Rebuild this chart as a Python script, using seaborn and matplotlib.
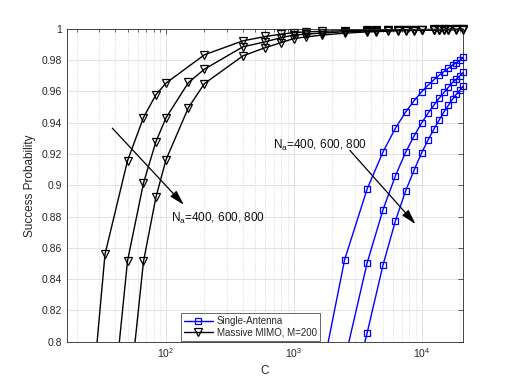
import numpy as np
import matplotlib
matplotlib.use("Agg")
import matplotlib.pyplot as plt
import seaborn as sns
from matplotlib.patches import Rectangle
from matplotlib.ticker import FixedLocator, LogLocator, NullFormatter

# single-antenna curves (C = 1250*k)
sa_c = [1250, 2500, 3750, 5000, 6250, 7500, 8750, 10000, 11250, 12500,
        13750, 15000, 16250, 17500, 18750, 20000, 21250]
sa_400 = [0.729, 0.8524, 0.8976, 0.9214, 0.9365, 0.9468, 0.954, 0.9597, 0.964,
          0.9674, 0.9704, 0.9727, 0.9749, 0.9768, 0.9783, 0.9798, 0.9818]
sa_600 = [0.70, 0.788, 0.8503, 0.8845, 0.9061, 0.921, 0.9316, 0.9397, 0.9461,
          0.9512, 0.9557, 0.9593, 0.9627, 0.9657, 0.9679, 0.9700, 0.9722]
sa_800 = [0.68, 0.75, 0.8055, 0.8492, 0.8773, 0.8963, 0.9097, 0.9206, 0.9289,
          0.9359, 0.9418, 0.947, 0.9512, 0.9551, 0.9583, 0.9608, 0.9636]

# massive MIMO curves
tail_c = [1250, 1667, 2500, 3750, 4400, 5500, 6500, 7500, 8750, 10000,
          12500, 13750, 15000, 16250, 18750, 21250]
mm_c_400 = [16.67, 33.33, 50, 66.67, 83.33, 100, 200, 400, 600, 800, 1000] + tail_c
mm_400 = [0.584, 0.856, 0.9157, 0.9433, 0.9578, 0.9653, 0.9834, 0.9923, 0.9951,
          0.9966, 0.9976,
          0.998, 0.9984, 0.9988, 0.9991, 0.9992, 0.9993, 0.9994, 0.9994, 0.9995,
          0.9995, 0.9996, 0.9996, 0.9996, 0.9997, 0.9997, 0.9997]
mm_c_600 = [33.33, 50, 66.67, 83.33, 100, 150, 200, 400, 600, 800, 1000] + tail_c
mm_600 = [0.709, 0.8517, 0.9014, 0.9278, 0.9431, 0.9657, 0.9742, 0.9885, 0.9917,
          0.9944, 0.996,
          0.9966, 0.9973, 0.9981, 0.9986, 0.9988, 0.999, 0.9991, 0.9992, 0.9993,
          0.9993, 0.9994, 0.9995, 0.9995, 0.9995, 0.9996, 0.9996]
mm_c_800 = [50, 66.67, 83.33, 100, 150, 200, 400, 600, 800, 1000] + tail_c
mm_800 = [0.754, 0.8513, 0.8922, 0.9163, 0.9497, 0.965, 0.9827, 0.988, 0.9912,
          0.9938,
          0.9948, 0.996, 0.9972, 0.998, 0.9982, 0.9985, 0.9987, 0.9988, 0.9989,
          0.999, 0.9992, 0.9992, 0.9993, 0.9993, 0.9994, 0.9994]

y_ticks = [0.8, 0.82, 0.84, 0.86, 0.88, 0.9, 0.92, 0.94, 0.96, 0.98, 1.0]
y_labels = ["0.8", "0.82", "0.84", "0.86", "0.88", "0.9", "0.92", "0.94",
            "0.96", "0.98", "1"]

sns.set_style("white")
plt.rcParams["font.family"] = ["Liberation Sans", "DejaVu Sans"]

fig = plt.figure(figsize=(5.12, 3.84), dpi=100)
ax = fig.add_axes([0.13, 0.11, 0.775, 0.815])

clip = Rectangle((0, 0), 1.02, 1.03, transform=ax.transAxes)

for c, p in [(sa_c, sa_400), (sa_c, sa_600), (sa_c, sa_800)]:
    sns.lineplot(x=c, y=p, ax=ax, color="b", marker="s", markersize=5,
                 markerfacecolor="none", markeredgecolor="b",
                 markeredgewidth=0.9, linewidth=1.0, sort=False)
for c, p in [(mm_c_400, mm_400), (mm_c_600, mm_600), (mm_c_800, mm_800)]:
    sns.lineplot(x=c, y=p, ax=ax, color="k", marker="v", markersize=5.3,
                 markerfacecolor="none", markeredgecolor="k",
                 markeredgewidth=0.9, linewidth=1.0, sort=False)

for ln in ax.lines:
    ln.set_clip_path(clip)

ax.set_xscale("log")
ax.set_xlim(50 / 3, 21250)
ax.set_ylim(0.8, 1.0)
ax.yaxis.set_major_locator(FixedLocator(y_ticks))
ax.set_yticklabels(y_labels)
ax.xaxis.set_major_locator(LogLocator(base=10, numticks=10))
ax.xaxis.set_minor_locator(LogLocator(base=10, subs=np.arange(2, 10), numticks=20))
ax.xaxis.set_minor_formatter(NullFormatter())

ax.grid(True, which="major", color="#dedede", linewidth=0.6, linestyle="-")
ax.grid(True, which="minor", axis="x", color="#d0d0d0", linewidth=0.6, linestyle=":")
ax.set_axisbelow(True)

for s in ax.spines.values():
    s.set_color("#262626")
    s.set_linewidth(0.6)
ax.tick_params(which="both", direction="in", top=True, right=True,
               colors="#262626", labelsize=7.5, width=0.5)
ax.tick_params(which="major", length=3.5)
ax.tick_params(which="minor", length=2)

ax.set_xlabel("C", fontsize=8.5, color="#262626", labelpad=3)
ax.set_ylabel("Success Probability", fontsize=8.5, color="#262626", labelpad=4)

ax.annotate("", xy=(138, 0.8875), xytext=(38, 0.9365),
            arrowprops=dict(arrowstyle="-|>,head_length=0.9,head_width=0.25",
                            color="k", lw=0.9, shrinkA=0, shrinkB=0))
ax.text(110, 0.879, r"N$_{\mathregular{a}}$=400, 600, 800", fontsize=8.5,
        va="center", ha="left", color="#111111")
ax.annotate("", xy=(8980, 0.8752), xytext=(2750, 0.9223),
            arrowprops=dict(arrowstyle="-|>,head_length=0.9,head_width=0.25",
                            color="k", lw=0.9, shrinkA=0, shrinkB=0))
ax.text(683, 0.9255, r"N$_{\mathregular{a}}$=400, 600, 800", fontsize=8.5,
        va="center", ha="left", color="#111111")

leg = ax.legend(handles=[ax.lines[0], ax.lines[3]],
                labels=["Single-Antenna", "Massive MIMO, M=200"],
                loc="lower left", bbox_to_anchor=(0.285, 0.0), fontsize=7,
                frameon=True, fancybox=False, edgecolor="#262626",
                borderpad=0.3, handlelength=3.0, labelspacing=0.2,
                handletextpad=0.4, borderaxespad=0.1)
leg.get_frame().set_linewidth(0.6)

fig.savefig("out.png", dpi=100)
